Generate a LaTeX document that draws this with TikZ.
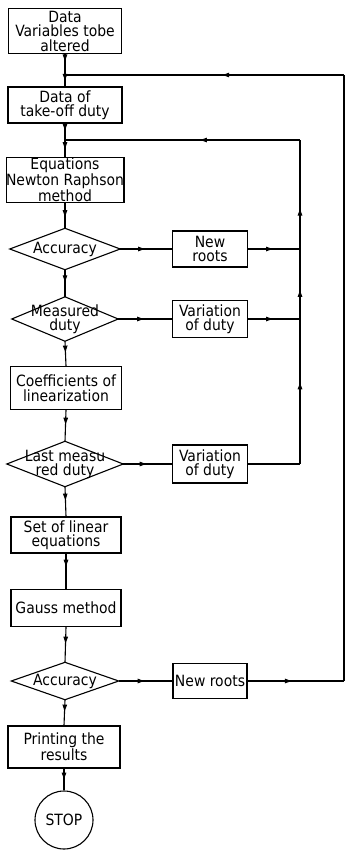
\documentclass[tikz,border=0pt]{standalone}
\usepackage{fontspec}
\setmainfont{DejaVu Sans Condensed}
\usetikzlibrary{arrows.meta,decorations.markings}
\tikzset{
  box/.style={draw, line width=1.1pt, rectangle, align=center, inner sep=0pt,
    font=\fontsize{15.5}{14.5}\selectfont},
  dia/.style={draw=none, rectangle, align=center, inner sep=0pt,
    font=\fontsize{15.5}{14}\selectfont},
  conn/.style={line width=1.1pt},
  midarrow/.style={conn, postaction={decorate}, decoration={markings,
    mark=at position #1 with {\arrow[line width=1pt]{Latex[length=8pt,width=5pt]}}}},
  midarrow/.default=0.5
}
\newcommand{\diaoutline}[1]{\draw[line width=1.1pt] (#1.north) -- (#1.east) -- (#1.south) -- (#1.west) -- cycle;}
\begin{document}
\begin{tikzpicture}[x=1pt,y=-1pt]
\useasboundingbox (0,0) rectangle (346,852);
% main column
\node[box, minimum width=113pt, minimum height=45pt] (b1) at (65,31) {Data\\Variables tobe\\altered};
\node[box, minimum width=114pt, minimum height=36pt] (b2) at (65,105) {Data of\\take-off duty};
\node[box, minimum width=114pt, minimum height=45pt] (b3) at (65,180) {Equations\\Newton Raphson\\method};
\node[dia, minimum width=110pt, minimum height=41pt] (d1) at (65,249) {Accuracy};
\node[dia, minimum width=106pt, minimum height=44pt] (d2) at (65,319) {Measured\\duty};
\node[box, minimum width=111pt, minimum height=43pt] (b4) at (66,388) {Coefficients of\\linearization};
\node[dia, minimum width=116pt, minimum height=45pt] (d3) at (65,464) {Last measu\\red duty};
\node[box, minimum width=110pt, minimum height=36pt] (b5) at (66,535) {Set of linear\\equations};
\node[box, minimum width=110pt, minimum height=37pt] (b6) at (66,608) {Gauss method};
\node[dia, minimum width=107pt, minimum height=37pt] (d4) at (65,681) {Accuracy};
\node[box, minimum width=112pt, minimum height=42pt] (b7) at (64,747) {Printing the\\results};
\node[box, circle, minimum size=58pt, inner sep=0pt, font=\fontsize{15.5}{15}\selectfont] (stop) at (64,820) {STOP};
\diaoutline{d1}
\diaoutline{d2}
\diaoutline{d3}
\diaoutline{d4}
% side boxes
\node[box, minimum width=75pt, minimum height=36pt] (r1) at (210,249) {New\\roots};
\node[box, minimum width=75pt, minimum height=37pt] (v1) at (210,319) {Variation\\of duty};
\node[box, minimum width=75pt, minimum height=38pt] (v2) at (210,464) {Variation\\of duty};
\node[box, minimum width=74pt, minimum height=35pt] (r2) at (210,681) {New roots};
% coordinates
\coordinate (j1) at (65,75);
\coordinate (j2) at (65,140);
\coordinate (o1) at (344,681);
\coordinate (o2) at (344,75);
\coordinate (i0) at (300,140);
\coordinate (i1) at (300,249);
\coordinate (i2) at (300,319);
\coordinate (i3) at (300,464);
% vertical flow
\draw[midarrow=0.4] (b1.south) -- (j1);
\draw[midarrow=0.6] (j1) -- (b2.north);
\draw[midarrow=0.5] (b2.south) -- (j2);
\draw[midarrow=0.6] (j2) -- (b3.north);
\draw[midarrow=0.6] (b3.south) -- (d1.north);
\draw[midarrow=0.5] (d1.south) -- (d2.north);
\draw[midarrow=0.5] (d2.south) -- (b4.north);
\draw[midarrow=0.5] (b4.south) -- (d3.north);
\draw[midarrow=0.5] (d3.south) -- (b5.north);
\draw[midarrow=0.4] (b5.south) -- (b6.north);
\draw[midarrow=0.5] (b6.south) -- (d4.north);
\draw[midarrow=0.5] (d4.south) -- (b7.north);
\draw[midarrow=0.55] (b7.south) -- (stop.north);
% horizontal branches
\draw[midarrow=0.5] (d1.east) -- (r1.west);
\draw[midarrow=0.5] (d2.east) -- (v1.west);
\draw[midarrow=0.5] (d3.east) -- (v2.west);
\draw[midarrow=0.5] (d4.east) -- (r2.west);
% inner loop
\draw[midarrow=0.5] (r1.east) -- (i1);
\draw[midarrow=0.5] (v1.east) -- (i2);
\draw[conn] (v2.east) -- (i3);
\draw[midarrow=0.57] (i3) -- (i2);
\draw[midarrow=0.43] (i2) -- (i1);
\draw[midarrow=0.38] (i1) -- (i0);
\draw[midarrow=0.43] (i0) -- (j2);
% outer loop
\draw[midarrow=0.47] (r2.east) -- (o1);
\draw[conn] (o1) -- (o2);
\draw[midarrow=0.44] (o2) -- (j1);
\end{tikzpicture}
\end{document}
